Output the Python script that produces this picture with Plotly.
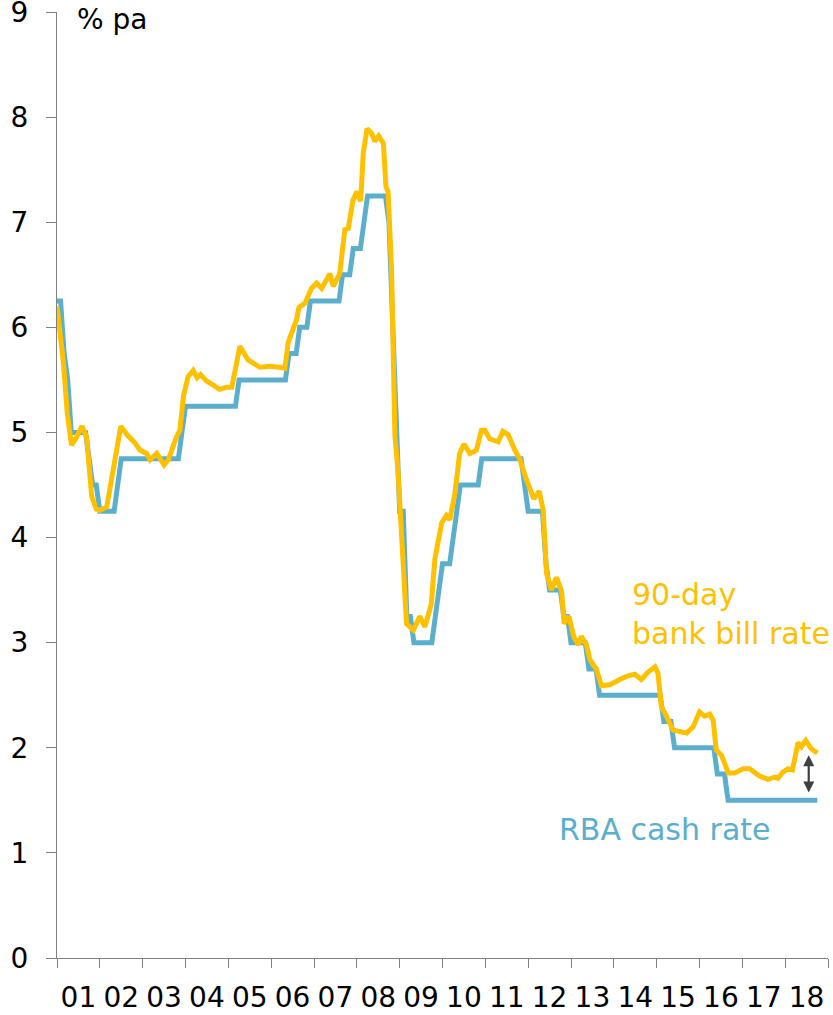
import plotly.graph_objects as go

# ---- Data -------------------------------------------------------------
# RBA cash rate, month-end values from Dec 2000 to Sep 2018 (% pa)
cash_rate = (
    [6.25] +                                                                    # Dec 2000
    [6.25, 5.75, 5.50, 5.00, 5.00, 5.00, 5.00, 5.00, 4.75, 4.50, 4.50, 4.25] +  # 2001
    [4.25, 4.25, 4.25, 4.25, 4.50, 4.75, 4.75, 4.75, 4.75, 4.75, 4.75, 4.75] +  # 2002
    [4.75, 4.75, 4.75, 4.75, 4.75, 4.75, 4.75, 4.75, 4.75, 4.75, 5.00, 5.25] +  # 2003
    [5.25, 5.25, 5.25, 5.25, 5.25, 5.25, 5.25, 5.25, 5.25, 5.25, 5.25, 5.25] +  # 2004
    [5.25, 5.25, 5.50, 5.50, 5.50, 5.50, 5.50, 5.50, 5.50, 5.50, 5.50, 5.50] +  # 2005
    [5.50, 5.50, 5.50, 5.50, 5.75, 5.75, 5.75, 6.00, 6.00, 6.00, 6.25, 6.25] +  # 2006
    [6.25, 6.25, 6.25, 6.25, 6.25, 6.25, 6.25, 6.50, 6.50, 6.50, 6.75, 6.75] +  # 2007
    [6.75, 7.00, 7.25, 7.25, 7.25, 7.25, 7.25, 7.25, 7.00, 6.00, 5.25, 4.25] +  # 2008
    [4.25, 3.25, 3.25, 3.00, 3.00, 3.00, 3.00, 3.00, 3.00, 3.25, 3.50, 3.75] +  # 2009
    [3.75, 3.75, 4.00, 4.25, 4.50, 4.50, 4.50, 4.50, 4.50, 4.50, 4.75, 4.75] +  # 2010
    [4.75, 4.75, 4.75, 4.75, 4.75, 4.75, 4.75, 4.75, 4.75, 4.75, 4.50, 4.25] +  # 2011
    [4.25, 4.25, 4.25, 4.25, 3.75, 3.50, 3.50, 3.50, 3.50, 3.25, 3.25, 3.00] +  # 2012
    [3.00, 3.00, 3.00, 3.00, 2.75, 2.75, 2.75, 2.50, 2.50, 2.50, 2.50, 2.50] +  # 2013
    [2.50, 2.50, 2.50, 2.50, 2.50, 2.50, 2.50, 2.50, 2.50, 2.50, 2.50, 2.50] +  # 2014
    [2.50, 2.25, 2.25, 2.25, 2.00, 2.00, 2.00, 2.00, 2.00, 2.00, 2.00, 2.00] +  # 2015
    [2.00, 2.00, 2.00, 2.00, 1.75, 1.75, 1.75, 1.50, 1.50, 1.50, 1.50, 1.50] +  # 2016
    [1.50, 1.50, 1.50, 1.50, 1.50, 1.50, 1.50, 1.50, 1.50, 1.50, 1.50, 1.50] +  # 2017
    [1.50, 1.50, 1.50, 1.50, 1.50, 1.50, 1.50, 1.50, 1.50]                      # 2018
)
cash_start_year = 2001.0  # Dec 2000 month-end

# 90-day bank bill rate (decimal year, % pa)
bill_year = [
    2001.00, 2001.15, 2001.24, 2001.34, 2001.45, 2001.58, 2001.69, 2001.81, 2001.92,
    2002.00, 2002.16, 2002.28, 2002.49, 2002.63, 2002.82, 2002.94,
    2003.09, 2003.17, 2003.33, 2003.50, 2003.60, 2003.79, 2003.87, 2003.95,
    2004.06, 2004.18, 2004.27, 2004.35, 2004.49, 2004.65, 2004.79, 2004.96,
    2005.08, 2005.27, 2005.46, 2005.74, 2005.97,
    2006.20, 2006.32, 2006.40, 2006.59, 2006.65, 2006.79, 2006.94,
    2007.06, 2007.18, 2007.29, 2007.37, 2007.45, 2007.60, 2007.72, 2007.80, 2007.91,
    2008.00, 2008.09, 2008.15, 2008.24, 2008.34, 2008.42, 2008.51, 2008.62, 2008.68,
    2008.73, 2008.81, 2008.89, 2008.96, 2009.16, 2009.32, 2009.47, 2009.59, 2009.74,
    2009.82, 2009.98, 2010.09, 2010.17, 2010.29, 2010.40, 2010.50, 2010.64, 2010.79,
    2010.91, 2010.99, 2011.10, 2011.30, 2011.41, 2011.53, 2011.69, 2011.80, 2011.96,
    2012.13, 2012.26, 2012.35, 2012.43, 2012.54, 2012.66, 2012.78, 2012.84, 2012.95,
    2013.07, 2013.17, 2013.24, 2013.36, 2013.44, 2013.60, 2013.71, 2013.91,
    2014.14, 2014.30, 2014.49, 2014.64, 2014.80, 2014.96,
    2015.03, 2015.11, 2015.23, 2015.38, 2015.58, 2015.70, 2015.77, 2015.85,
    2016.00, 2016.12, 2016.24, 2016.32, 2016.39, 2016.51, 2016.59, 2016.67, 2016.82,
    2017.02, 2017.17, 2017.29, 2017.41, 2017.60, 2017.76, 2017.83, 2017.95,
    2018.07, 2018.17, 2018.30, 2018.38, 2018.48, 2018.61, 2018.75,
]
bill_rate = [
    6.20, 5.66, 5.18, 4.88, 4.95, 5.06, 4.96, 4.39, 4.27,
    4.26, 4.29, 4.58, 5.06, 4.98, 4.90, 4.83,
    4.80, 4.74, 4.80, 4.69, 4.74, 4.96, 5.02, 5.34,
    5.53, 5.59, 5.52, 5.55, 5.49, 5.45, 5.41, 5.43,
    5.43, 5.82, 5.69, 5.62, 5.63,
    5.62, 5.61, 5.86, 6.07, 6.19, 6.23, 6.37,
    6.42, 6.37, 6.45, 6.51, 6.39, 6.51, 6.93, 6.94, 7.21,
    7.29, 7.20, 7.66, 7.89, 7.85, 7.77, 7.82, 7.75, 7.34,
    7.29, 6.55, 4.96, 4.64, 3.18, 3.12, 3.25, 3.15, 3.37,
    3.79, 4.14, 4.21, 4.17, 4.42, 4.80, 4.89, 4.80, 4.83,
    5.02, 5.02, 4.94, 4.91, 5.01, 4.98, 4.83, 4.75, 4.55,
    4.37, 4.44, 4.26, 3.66, 3.50, 3.62, 3.49, 3.18, 3.25,
    3.05, 2.98, 3.06, 2.98, 2.84, 2.74, 2.59, 2.60,
    2.65, 2.68, 2.70, 2.65, 2.72, 2.77,
    2.71, 2.39, 2.30, 2.17, 2.15, 2.14, 2.17, 2.20,
    2.34, 2.30, 2.32, 2.26, 1.98, 1.93, 1.85, 1.76, 1.76,
    1.80, 1.80, 1.77, 1.73, 1.70, 1.72, 1.71, 1.77,
    1.80, 1.79, 2.05, 2.01, 2.07, 1.99, 1.95,
]

year_labels = ["01", "02", "03", "04", "05", "06", "07", "08", "09",
               "10", "11", "12", "13", "14", "15", "16", "17", "18"]
first_year = 2001
y_ticks = [0, 1, 2, 3, 4, 5, 6, 7, 8, 9]

# ---- Styling ------------------------------------------------------------
FONT = "DejaVu Sans"
BLUE = "#5BAFCD"
GOLD = "#FFC000"
AXIS = "#808080"

cash_year = [cash_start_year + i / 12 for i in range(len(cash_rate))]

fig = go.Figure()
fig.add_trace(go.Scatter(x=cash_year, y=cash_rate, mode="lines",
                         line=dict(color=BLUE, width=5), name="RBA cash rate",
                         hoverinfo="skip", cliponaxis=False))
fig.add_trace(go.Scatter(x=bill_year, y=bill_rate, mode="lines",
                         line=dict(color=GOLD, width=5), name="90-day bank bill rate",
                         hoverinfo="skip", cliponaxis=False))

label_pos = [first_year + i + 0.5 for i in range(len(year_labels))]
end_year = first_year + len(year_labels)

fig.update_layout(
    width=833, height=1015,
    margin=dict(l=57, r=5, t=12, b=57, autoexpand=False),
    paper_bgcolor="white", plot_bgcolor="white",
    showlegend=False,
    font=dict(family=FONT, size=28, color="#000000"),
    xaxis=dict(
        range=[first_year, end_year], automargin=False,
        tickmode="array", tickvals=label_pos, ticktext=year_labels,
        ticks="", showgrid=False, zeroline=False,
        showline=True, linecolor=AXIS, linewidth=1.3,
        ticklabelstandoff=14, ticklabeloverflow="allow",
        tickfont=dict(family=FONT, size=28, color="#000000"),
        minor=dict(tickmode="linear", tick0=first_year, dtick=1,
                   ticks="outside", ticklen=9, tickcolor=AXIS, tickwidth=1.3,
                   showgrid=False),
    ),
    yaxis=dict(
        range=[0, 9], tickmode="array", tickvals=y_ticks, automargin=False,
        ticks="outside", ticklen=10, tickcolor=AXIS, tickwidth=1.3,
        showgrid=False, zeroline=False,
        showline=True, linecolor=AXIS, linewidth=1.3,
        ticklabelstandoff=12, ticklabeloverflow="allow",
        tickfont=dict(family=FONT, size=28, color="#000000"),
    ),
)

fig.add_annotation(x=2001.42, y=8.93, xref="x", yref="y", text="% pa",
                   showarrow=False, xanchor="left", yanchor="middle",
                   font=dict(family=FONT, size=28, color="#000000"))
fig.add_annotation(x=2014.38, y=3.27, xref="x", yref="y",
                   text="90-day<br>bank bill rate", align="left",
                   showarrow=False, xanchor="left", yanchor="middle",
                   font=dict(family=FONT, size=30, color=GOLD))
fig.add_annotation(x=2012.68, y=1.22, xref="x", yref="y",
                   text="RBA cash rate", align="left",
                   showarrow=False, xanchor="left", yanchor="middle",
                   font=dict(family=FONT, size=30, color=BLUE))
# double-headed arrow showing the spread
fig.add_annotation(x=2018.55, y=1.93, ax=2018.55, ay=1.56,
                   xref="x", yref="y", axref="x", ayref="y",
                   text="", showarrow=True, arrowhead=2, startarrowhead=2,
                   arrowside="end+start", arrowsize=1, arrowwidth=2.2,
                   arrowcolor="#404040")

fig.write_html("out.html",
               config={"displayModeBar": False},
               post_script="document.body.style.margin='0';"
                           "document.body.style.padding='0';")
